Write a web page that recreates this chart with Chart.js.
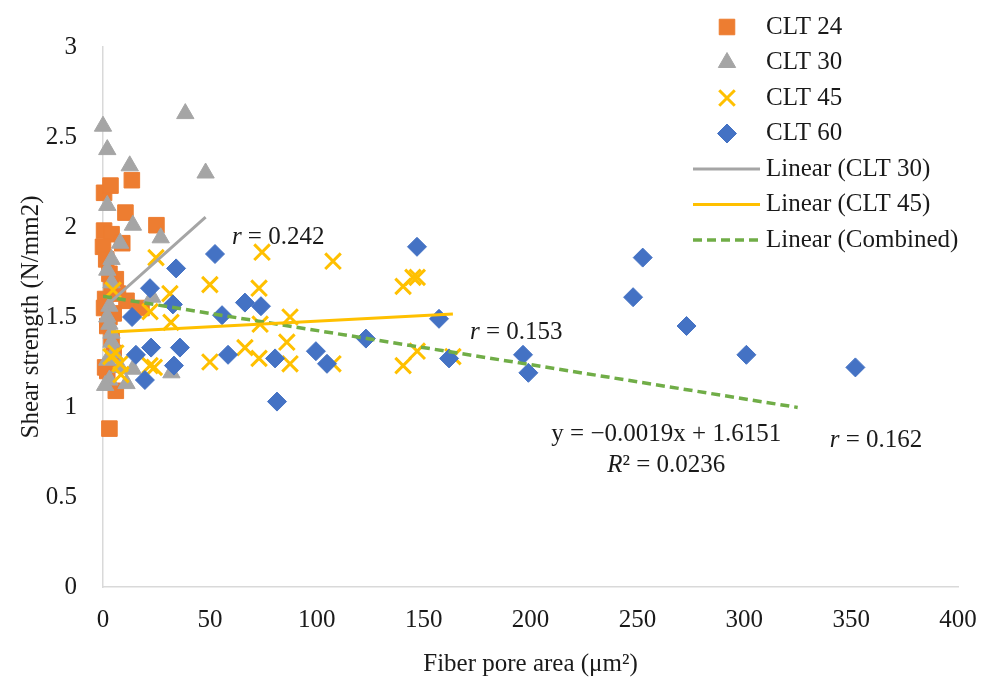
<!DOCTYPE html>
<html>
<head>
<meta charset="utf-8">
<script src="https://cdn.jsdelivr.net/npm/chart.js@4.4.1/dist/chart.umd.min.js"></script>
<style>
  html, body { margin: 0; padding: 0; background: #fff; }
</style>
</head>
<body>
<canvas id="myChart" width="985" height="679"></canvas>
<script>
// values: x = fiber pore area (um2), y = shear strength (N/mm2)
let clt24X = [0.5, 3.5, 13.5, 10.5, 25, 0.5, 4, 9, 0, 1.5, 3, 4, 7, 1, 0.5, 3, 11, 18, 2, 4, 1, 6, 3, 5, 2, 6, 5];
let clt24Y = [2.19, 2.23, 2.26, 2.08, 2.01, 1.98, 1.96, 1.91, 1.89, 1.82, 1.74, 1.67, 1.63, 1.6, 1.55, 1.5, 1.59, 1.55, 1.45, 1.38, 1.22, 1.09, 0.88, 1.3, 1.2, 1.71, 1.52];

let clt30X = [0, 2, 12.5, 38.5, 48, 2, 14, 27, 8, 4, 2, 4, 23, 3, 2, 4, 4, 2, 8, 14, 32, 3, 11, 1, 5, 3];
let clt30Y = [2.56, 2.43, 2.34, 2.63, 2.3, 2.12, 2.01, 1.94, 1.91, 1.82, 1.76, 1.69, 1.61, 1.56, 1.5, 1.41, 1.36, 1.26, 1.22, 1.21, 1.19, 1.15, 1.13, 1.12, 1.3, 1.46];

let clt45X = [4.7, 24.8, 31.3, 22, 31.8, 50, 50, 74.4, 73, 73.5, 73, 66.4, 87.5, 86, 87.5, 107.6, 107.6, 140.4, 145, 147, 140.4, 147, 163.7, 3.7, 8, 8.4, 22, 24, 6];
let clt45Y = [1.65, 1.83, 1.63, 1.53, 1.47, 1.68, 1.25, 1.86, 1.66, 1.46, 1.27, 1.33, 1.5, 1.36, 1.24, 1.81, 1.24, 1.67, 1.72, 1.72, 1.23, 1.31, 1.28, 1.28, 1.24, 1.18, 1.23, 1.22, 1.3];

let clt60X = [52.4, 146.9, 66.4, 73.9, 55.7, 58.5, 80.5, 99.6, 104.8, 123, 157.2, 161.9, 81.4, 34.2, 22, 32.7, 13.6, 22.5, 36, 15.4, 33.2, 19.6, 196.5, 199, 252.5, 248, 273, 301, 352];
let clt60Y = [1.85, 1.89, 1.58, 1.56, 1.51, 1.29, 1.27, 1.31, 1.24, 1.38, 1.49, 1.27, 1.03, 1.77, 1.66, 1.57, 1.5, 1.33, 1.33, 1.29, 1.23, 1.15, 1.29, 1.19, 1.83, 1.61, 1.45, 1.29, 1.22];

// trend lines: [slope, intercept]
let trend30 = [0.0106, 1.546];
let trend45 = [0.000625, 1.414];
let trendAll = [-0.0019, 1.6151];
let trendAllRange = [0, 325];

const FONT = '"Liberation Serif", "Times New Roman", serif';
const FS = 25;
const TXT = '#1a1a1a';

function pts(xs, ys) {
  return xs.map((x, i) => ({ x: x, y: ys[i] }));
}
function fitLine(coef, x0, x1) {
  return [{ x: x0, y: coef[0] * x0 + coef[1] }, { x: x1, y: coef[0] * x1 + coef[1] }];
}

// text notes on the plot, placed in data units
let notes = [
  { parts: [['r', true], [' = 0.242', false]], x: 60.3, y: 1.944, align: 'left' },
  { parts: [['r', true], [' = 0.153', false]], x: 171.7, y: 1.417, align: 'left' },
  { parts: [['y = \u22120.0019x + 1.6151', false]], x: 263.5, y: 0.845, align: 'center' },
  { parts: [['R', true], ['\u00b2 = 0.0236', false]], x: 263.5, y: 0.678, align: 'center' },
  { parts: [['r', true], [' = 0.162', false]], x: 340, y: 0.817, align: 'left' },
];

function setFont(ctx, italic) {
  ctx.font = (italic ? 'italic ' : '') + FS + 'px ' + FONT;
}

const notesPlugin = {
  id: 'notes',
  afterDatasetsDraw(chart) {
    const ctx = chart.ctx;
    const xs = chart.scales.x, ys = chart.scales.y;
    ctx.save();
    ctx.fillStyle = TXT;
    ctx.textBaseline = 'middle';
    ctx.textAlign = 'left';
    notes.forEach(n => {
      let w = 0;
      n.parts.forEach(p => { setFont(ctx, p[1]); w += ctx.measureText(p[0]).width; });
      let px = xs.getPixelForValue(n.x);
      const py = ys.getPixelForValue(n.y);
      if (n.align === 'center') px -= w / 2;
      n.parts.forEach(p => {
        setFont(ctx, p[1]);
        ctx.fillText(p[0], px, py);
        px += ctx.measureText(p[0]).width;
      });
    });
    ctx.restore();
  }
};

// legend drawn in the top right corner, over the plot
const legendPlugin = {
  id: 'sideLegend',
  afterDraw(chart) {
    const ctx = chart.ctx;
    ctx.save();
    chart.data.datasets.forEach((ds, i) => {
      const y = 27 + i * 35.5;
      if (ds.showLine) {
        ctx.strokeStyle = ds.borderColor;
        ctx.lineWidth = ds.borderWidth;
        ctx.setLineDash(ds.borderDash || []);
        ctx.beginPath();
        ctx.moveTo(693, y);
        ctx.lineTo(760, y);
        ctx.stroke();
        ctx.setLineDash([]);
      } else if (Chart.helpers && Chart.helpers.drawPoint) {
        ctx.fillStyle = ds.backgroundColor;
        ctx.strokeStyle = ds.borderColor;
        ctx.lineWidth = ds.borderWidth;
        Chart.helpers.drawPoint(ctx, {
          pointStyle: ds.pointStyle, radius: ds.pointRadius,
          borderWidth: ds.borderWidth, rotation: 0
        }, 727, y);
      }
      ctx.fillStyle = TXT;
      ctx.textBaseline = 'middle';
      setFont(ctx, false);
      ctx.fillText(ds.label, 766, y);
    });
    ctx.restore();
  }
};

let canvas = document.getElementById('myChart');
let ctx = canvas.getContext('2d');
let chart = new Chart(ctx, {
  type: 'scatter',
  data: {
    datasets: [
      {
        label: 'CLT 24', data: pts(clt24X, clt24Y), order: 4, clip: false,
        pointStyle: 'rect', pointRadius: 11, borderWidth: 1,
        backgroundColor: '#ED7D31', borderColor: '#ED7D31'
      },
      {
        label: 'CLT 30', data: pts(clt30X, clt30Y), order: 3, clip: false,
        pointStyle: 'triangle', pointRadius: 10, borderWidth: 1,
        backgroundColor: '#A5A5A5', borderColor: '#A5A5A5'
      },
      {
        label: 'CLT 45', data: pts(clt45X, clt45Y), order: 2, clip: false,
        pointStyle: 'crossRot', pointRadius: 11, borderWidth: 3,
        backgroundColor: '#FFC000', borderColor: '#FFC000'
      },
      {
        label: 'CLT 60', data: pts(clt60X, clt60Y), order: 1, clip: false,
        pointStyle: 'rectRot', pointRadius: 9.5, borderWidth: 1,
        backgroundColor: '#4472C4', borderColor: '#4472C4'
      },
      {
        label: 'Linear (CLT 30)', order: 0, showLine: true,
        data: fitLine(trend30, Math.min(...clt30X), Math.max(...clt30X)),
        borderColor: '#A5A5A5', backgroundColor: '#A5A5A5', borderWidth: 3, pointRadius: 0
      },
      {
        label: 'Linear (CLT 45)', order: 0, showLine: true,
        data: fitLine(trend45, Math.min(...clt45X), Math.max(...clt45X)),
        borderColor: '#FFC000', backgroundColor: '#FFC000', borderWidth: 3, pointRadius: 0
      },
      {
        label: 'Linear (Combined)', order: 0, showLine: true,
        data: fitLine(trendAll, trendAllRange[0], trendAllRange[1]),
        borderColor: '#70AD47', backgroundColor: '#70AD47', borderWidth: 3.5,
        borderDash: [9, 5], pointRadius: 0
      },
    ],
  },
  options: {
    responsive: false,
    animation: false,
    devicePixelRatio: 1,
    layout: { padding: { top: 47, right: 27, left: 0, bottom: 0 } },
    plugins: {
      legend: { display: false },
      tooltip: { enabled: false },
    },
    scales: {
      x: {
        type: 'linear', min: 0, max: 400,
        ticks: { stepSize: 50, color: TXT, font: { family: FONT, size: FS }, padding: 18, maxRotation: 0 },
        grid: { display: false, drawTicks: false },
        border: { display: true, color: '#d9d9d9', width: 1.5 },
        title: {
          display: true, text: 'Fiber pore area (\u03bcm\u00b2)', color: TXT,
          font: { family: FONT, size: FS }, padding: { top: 4, bottom: 0 }
        },
        afterFit: s => { s.height = 92; s.paddingLeft = 0; s.paddingRight = 0; }
      },
      y: {
        type: 'linear', min: 0, max: 3,
        ticks: {
          stepSize: 0.5, color: TXT, font: { family: FONT, size: FS }, padding: 26,
          callback: v => String(Math.round(v * 10) / 10)
        },
        grid: { display: false, drawTicks: false },
        border: { display: true, color: '#d9d9d9', width: 1.5 },
        title: {
          display: true, text: 'Shear strength (N/mm2)', color: TXT,
          font: { family: FONT, size: FS }, padding: { top: 16, bottom: 4 }
        },
        afterFit: s => { s.width = 103; s.paddingTop = 0; s.paddingBottom = 0; }
      },
    },
  },
  plugins: [notesPlugin, legendPlugin],
});
</script>
</body>
</html>
